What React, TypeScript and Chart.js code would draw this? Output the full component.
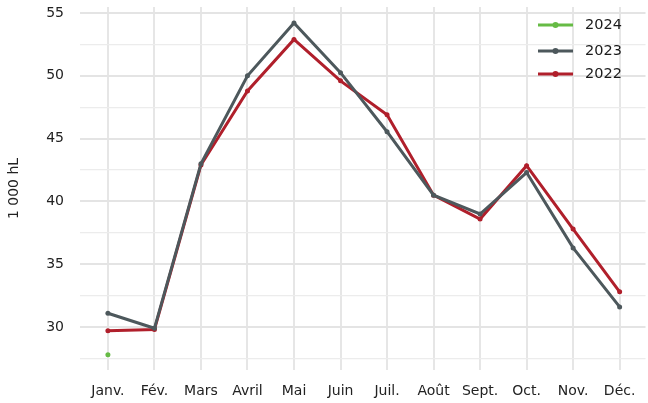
import React, { useEffect, useRef } from "react";
import { Chart, registerables } from "chart.js";
Chart.register(...registerables);

const months = ["Janv.", "Fév.", "Mars", "Avril", "Mai", "Juin", "Juil.", "Août", "Sept.", "Oct.", "Nov.", "Déc."];
const values2024 = [27.8];
const values2023 = [31.1, 29.9, 43.0, 50.0, 54.2, 50.25, 45.55, 40.5, 39.0, 42.3, 36.3, 31.6];
const values2022 = [29.7, 29.8, 42.9, 48.8, 52.9, 49.6, 46.9, 40.5, 38.6, 42.85, 37.8, 32.8];
const yTicks = [27.5, 30, 32.5, 35, 37.5, 40, 42.5, 45, 47.5, 50, 52.5, 55];
const seriesLabels = ["2024", "2023", "2022"];
const seriesColors = ["#66bb45", "#4d585c", "#b01f2b"];
const yTitle = "1 000 hL";

const FONT = "'DejaVu Sans', 'Noto Sans', sans-serif";

const toPoints = (vals: number[]) => vals.map((v, i) => ({ x: i, y: v }));

const legendPlugin = {
  id: "customLegend",
  afterDraw(chart: any) {
    const ctx = chart.ctx as CanvasRenderingContext2D;
    const ys = [25, 51, 74];
    ctx.save();
    seriesLabels.forEach((lab, i) => {
      const y = ys[i];
      ctx.strokeStyle = seriesColors[i];
      ctx.lineWidth = 3;
      ctx.beginPath();
      ctx.moveTo(538, y);
      ctx.lineTo(573, y);
      ctx.stroke();
      ctx.fillStyle = seriesColors[i];
      ctx.beginPath();
      ctx.arc(555.5, y, 3, 0, Math.PI * 2);
      ctx.fill();
      ctx.fillStyle = "#1a1a1a";
      ctx.font = `14.5px ${FONT}`;
      ctx.textBaseline = "middle";
      ctx.textAlign = "left";
      ctx.fillText(lab, 585, y);
    });
    ctx.restore();
  },
};

export default function App() {
  const ref = useRef<HTMLCanvasElement>(null);
  useEffect(() => {
    document.body.style.margin = "0";
    const canvas = ref.current!;
    const datasets = [values2024, values2023, values2022].map((vals, i) => ({
      label: seriesLabels[i],
      data: toPoints(vals),
      borderColor: seriesColors[i],
      backgroundColor: seriesColors[i],
      borderWidth: 3,
      pointRadius: 2.5,
      pointBorderWidth: 0,
      pointHoverRadius: 2.5,
      tension: 0,
    }));
    const chart = new Chart(canvas, {
      type: "line",
      data: { datasets },
      options: {
        animation: false,
        responsive: false,
        layout: { padding: { top: 7, right: 0, left: 0, bottom: 0 } },
        plugins: { legend: { display: false }, tooltip: { enabled: false } },
        scales: {
          x: {
            type: "linear",
            min: -0.6,
            max: 11.556,
            afterBuildTicks: (s: any) => {
              s.ticks = months.map((_, i) => ({ value: i }));
            },
            afterFit: (s: any) => {
              s.height = 33;
              s.paddingLeft = 0;
              s.paddingRight = 0;
            },
            grid: { color: "#e6e6e6", lineWidth: 2, drawTicks: false },
            border: { display: false },
            ticks: {
              padding: 13,
              color: "#222",
              font: { family: FONT, size: 14 },
              maxRotation: 0,
              autoSkip: false,
              callback: (v: any) => months[Math.round(Number(v))] ?? "",
            },
          },
          y: {
            type: "linear",
            min: 26.58,
            max: 55.48,
            afterBuildTicks: (s: any) => {
              s.ticks = yTicks.map((v) => ({ value: v }));
            },
            afterFit: (s: any) => {
              s.width = 80;
              s.paddingTop = 0;
              s.paddingBottom = 0;
            },
            grid: {
              drawTicks: false,
              color: (c: any) => (c.tick && c.tick.value % 5 === 0 ? "#e4e4e4" : "#ececec"),
              lineWidth: (c: any) => (c.tick && c.tick.value % 5 === 0 ? 2 : 1.2),
            },
            border: { display: false },
            title: {
              display: true,
              text: yTitle,
              color: "#222",
              font: { family: FONT, size: 14 },
              padding: { top: 6, bottom: 0 },
            },
            ticks: {
              padding: 16,
              color: "#222",
              font: { family: FONT, size: 14 },
              callback: (v: any) => (Number(v) % 5 === 0 ? String(v) : ""),
            },
          },
        },
      },
      plugins: [legendPlugin],
    });
    return () => chart.destroy();
  }, []);
  return (
    <div style={{ width: 648, height: 403 }}>
      <canvas ref={ref} width={648} height={403} />
    </div>
  );
}
